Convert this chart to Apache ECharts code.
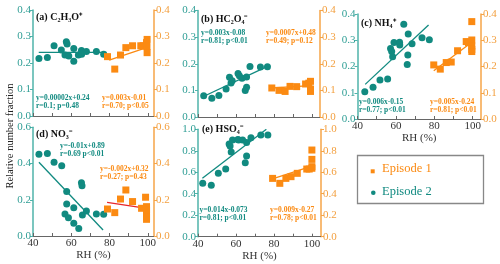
<!DOCTYPE html>
<html><head><meta charset="utf-8">
<script src="https://cdn.jsdelivr.net/npm/echarts@6/dist/echarts.min.js"></script>
<style>html,body{margin:0;padding:0;background:#fff}#c{width:500px;height:264px}</style>
</head><body><div id="c"></div>
<script>
const xTickValues = [40, 50, 60, 70, 80, 90, 100];
const xLabelValues = [40, 60, 80, 100];

const aTeal = [[43.1,0.217],[47.5,0.221],[51,0.265],[54.8,0.249],[57.4,0.28],[57.8,0.272],[56.7,0.23],[58.7,0.226],[61.3,0.207],[61.3,0.255],[63.7,0.23],[65.3,0.247],[65.4,0.233],[67.9,0.243],[73.1,0.243],[76.9,0.233]];
const aOrange = [[78.9,0.224],[82.7,0.177],[85.7,0.23],[88.5,0.258],[92,0.265],[96.3,0.265],[97.5,0.265],[99.3,0.277],[99.6,0.289],[99.5,0.262],[99.6,0.239]];
const aTealFit = [[43,0.24],[78.4,0.24]];
const aOrangeFit = [[79.8,0.211],[99.3,0.258]];

const bTeal = [[43,0.08],[47.3,0.07],[51,0.081],[54.8,0.105],[56.6,0.149],[57.4,0.128],[58,0.136],[61.1,0.163],[61.8,0.155],[63.2,0.146],[65.6,0.15],[64.9,0.1],[65.6,0.112],[67.4,0.19],[72.9,0.188],[76.6,0.189]];
const bOrange = [[78.9,0.109],[82.7,0.1],[85.9,0.096],[88.5,0.115],[92,0.114],[96.7,0.124],[98.4,0.127],[99.3,0.134],[99.3,0.105],[99.3,0.096]];
const bTealFit = [[42.3,0.075],[76.6,0.19]];
const bOrangeFit = [[79,0.109],[99.3,0.118]];

const cTeal = [[43.8,0.104],[48.1,0.121],[51.7,0.149],[55.7,0.152],[57.2,0.269],[57.8,0.257],[58.3,0.237],[59,0.291],[61.9,0.292],[62,0.282],[64.1,0.361],[66.4,0.324],[66.2,0.244],[65.9,0.208],[68.4,0.287],[73.6,0.31],[77.4,0.302]];
const cOrange = [[79.7,0.206],[83.1,0.19],[86.2,0.215],[88.8,0.217],[92.1,0.26],[96.6,0.295],[97.8,0.291],[99.5,0.371],[99.5,0.301],[99.5,0.278],[99.5,0.265],[99.5,0.257]];
const cTealFit = [[44,0.132],[77,0.358]];
const cOrangeFit = [[79.7,0.184],[99.5,0.292]];

const dTeal = [[43.1,0.451],[47.5,0.455],[51,0.407],[55,0.388],[57.6,0.245],[57.6,0.177],[56.7,0.121],[58.5,0.101],[61.3,0.156],[61.3,0.07],[63.9,0.042],[65.3,0.294],[65.6,0.278],[65.8,0.116],[67.9,0.138],[73.1,0.121],[76.9,0.12]];
const dOrange = [[78.9,0.149],[82.7,0.129],[85.7,0.204],[88.5,0.254],[92,0.19],[96.7,0.153],[98.8,0.214],[99.3,0.162],[99.3,0.144],[99.3,0.125],[99.3,0.107],[99.3,0.092]];
const dTealFit = [[43.1,0.407],[76.6,0.033]];
const dOrangeFit = [[78.7,0.186],[99.3,0.153]];

const eTeal = [[42.5,0.497],[47,0.478],[50.7,0.59],[54.6,0.63],[56.4,0.863],[56.9,0.845],[57.5,0.789],[58.2,0.9],[61,0.906],[61.4,0.9],[63.5,0.9],[65.6,0.876],[65.6,0.752],[64.9,0.689],[67.9,0.922],[73.1,0.947],[76.8,0.947]];
const eOrange = [[79.3,0.543],[83.1,0.497],[86.3,0.543],[89,0.559],[92.3,0.59],[97.3,0.63],[98.6,0.63],[100,0.807],[100,0.72],[100,0.652],[100,0.637]];
const eTealFit = [[42.3,0.544],[76,1.0]];
const eOrangeFit = [[78.4,0.534],[100,0.658]];

const panelTitles = ['(a) C₂H₃O⁺', '(b) HC₂O₄⁻', '(c) NH₄⁺', '(d) NO₃⁻', '(e) HSO₄⁻'];
const tealEq = [['y=0.00002x+0.24','r=0.1; p=0.48'],['y=0.003x-0.08','r=0.81; p<0.01'],['y=0.006x-0.15','r=0.77; p<0.01'],['y=-0.01x+0.89','r=0.69 p<0.01'],['y=0.014x-0.073','r=0.81; p<0.01']];
const orangeEq = [['y=0.003x-0.01','r=0.70; p<0.05'],['y=0.0007x+0.48','r=0.49; p=0.12'],['y=0.005x-0.24','r=0.81; p<0.01'],['y=-0.002x+0.32','r=0.27; p=0.43'],['y=0.009x-0.27','r=0.78; p<0.01']];
const yMaxes = [0.4, 0.4, 0.4, 0.6, 1.0];
const yIntervals = [0.1, 0.1, 0.1, 0.2, 0.2];
const legendNames = ['Episode 1', 'Episode 2'];

const TEAL = '#118a80', ORANGE = '#fb8a12', RED = '#e8262a';
const TEAL_AX = '#4fb3aa', ORANGE_AX = '#f6a447';
const FONT = 'Liberation Serif';

const grids = [
  {left:33, top:10, width:121, height:106},
  {left:198, top:10.5, width:122, height:106.5},
  {left:357.5, top:14, width:123.5, height:105},
  {left:33, top:127.3, width:121, height:108.7},
  {left:198, top:129.3, width:123, height:107.4}
];
const xMaxes = [103.2, 104.3, 104.3, 103.2, 104.8];
const showXLabel = [false, false, true, true, true];
const tealSets = [aTeal, bTeal, cTeal, dTeal, eTeal];
const orangeSets = [aOrange, bOrange, cOrange, dOrange, eOrange];
const tealFits = [aTealFit, bTealFit, cTealFit, dTealFit, eTealFit];
const orangeFits = [aOrangeFit, bOrangeFit, cOrangeFit, dOrangeFit, eOrangeFit];

const xAxis = [], yAxis = [], series = [];
grids.forEach((g, i) => {
  xAxis.push({
    type:'value', gridIndex:i, min:40, max:xMaxes[i],
    axisLine:{lineStyle:{color:'#666', width:1}},
    axisTick:{inside:true, length:3, customValues:xTickValues, lineStyle:{color:'#666'}},
    axisLabel:{show:showXLabel[i], customValues:xLabelValues, color:'#333', fontFamily:FONT, fontSize:11, margin:2},
    splitLine:{show:false},
    name: showXLabel[i] ? 'RH (%)' : '', nameLocation:'middle', nameGap:14,
    nameTextStyle:{color:'#333', fontFamily:FONT, fontSize:11}
  });
  yAxis.push({
    type:'value', gridIndex:i, min:0, max:yMaxes[i], interval:yIntervals[i], position:'left',
    axisLine:{show:true, lineStyle:{color:TEAL_AX, width:1.5}},
    axisTick:{show:true, length:3, lineStyle:{color:TEAL_AX}},
    axisLabel:{color:'#2f9e95', fontFamily:FONT, fontSize:11, margin:2, formatter:v=>v.toFixed(1)},
    splitLine:{show:false}
  });
  yAxis.push({
    type:'value', gridIndex:i, min:0, max:yMaxes[i], interval:yIntervals[i], position:'right',
    axisLine:{show:true, lineStyle:{color:ORANGE_AX, width:1.5}},
    axisTick:{show:true, length:3, lineStyle:{color:ORANGE_AX}},
    axisLabel:{color:'#f3a040', fontFamily:FONT, fontSize:11, margin:2, formatter:v=>v.toFixed(1)},
    splitLine:{show:false}
  });
  series.push({type:'line', xAxisIndex:i, yAxisIndex:2*i, data:tealFits[i], symbol:'none', lineStyle:{color:TEAL, width:1.3}, silent:true, z:1});
  series.push({type:'line', xAxisIndex:i, yAxisIndex:2*i+1, data:orangeFits[i], symbol:'none', lineStyle:{color: i===3 ? RED : ORANGE, width:1.3}, silent:true, z:1});
  series.push({type:'scatter', xAxisIndex:i, yAxisIndex:2*i, data:tealSets[i], symbol:'circle', symbolSize:7, itemStyle:{color:TEAL, opacity:1}, z:3});
  series.push({type:'scatter', xAxisIndex:i, yAxisIndex:2*i+1, data:orangeSets[i], symbol:'rect', symbolSize:7, itemStyle:{color:ORANGE, opacity:1}, z:3});
});

const titlePos = [[36,18],[201,20.5],[361,24],[36,135],[202,130]];
const tealEqPos = [[36,98],[201,33],[359,102],[60,146.5],[199.5,210]];
const orangeEqPos = [[102,98],[266,33],[430,102],[100,169.5],[270,210]];
const graphic = [];
const eqStyle = (txt, col) => ({text: txt, fill: col, font: 'bold 7.5px "Liberation Serif"'});
panelTitles.forEach((t, i) => {
  graphic.push({type:'text', left:titlePos[i][0], top:titlePos[i][1]-6, style:{text:t, fill:'#111', font:'bold 10px "Liberation Serif"'}, z:10});
  graphic.push({type:'text', left:tealEqPos[i][0], top:tealEqPos[i][1]-4, style:eqStyle(tealEq[i][0], TEAL), z:10});
  graphic.push({type:'text', left:tealEqPos[i][0], top:tealEqPos[i][1]+4, style:eqStyle(tealEq[i][1], TEAL), z:10});
  graphic.push({type:'text', left:orangeEqPos[i][0], top:orangeEqPos[i][1]-4, style:eqStyle(orangeEq[i][0], ORANGE), z:10});
  graphic.push({type:'text', left:orangeEqPos[i][0], top:orangeEqPos[i][1]+4, style:eqStyle(orangeEq[i][1], ORANGE), z:10});
});
// y axis name
graphic.push({type:'text', x:10, y:136, rotation:Math.PI/2, style:{text:'Relative number fraction', fill:'#222', font:'10.5px "Liberation Serif"', align:'center', verticalAlign:'middle'}, z:10});
// legend
graphic.push({type:'rect', shape:{x:357.5, y:155.5, width:126, height:48}, style:{fill:'#fff', stroke:'#888', lineWidth:1.3}, z:5});
graphic.push({type:'rect', shape:{x:370.7, y:169.3, width:4, height:4}, style:{fill:ORANGE}, z:6});
graphic.push({type:'text', x:382, y:169, style:{text:legendNames[0], fill:ORANGE, font:'12.5px "Liberation Serif"', verticalAlign:'middle'}, z:6});
graphic.push({type:'circle', shape:{cx:373.3, cy:192.7, r:2.3}, style:{fill:TEAL}, z:6});
graphic.push({type:'text', x:382, y:191.7, style:{text:legendNames[1], fill:TEAL, font:'12.5px "Liberation Serif"', verticalAlign:'middle'}, z:6});

const chart = echarts.init(document.getElementById('c'), null, {renderer:'canvas'});
chart.setOption({animation:false, backgroundColor:'#fff', grid:grids, xAxis, yAxis, series, graphic});
</script></body></html>
